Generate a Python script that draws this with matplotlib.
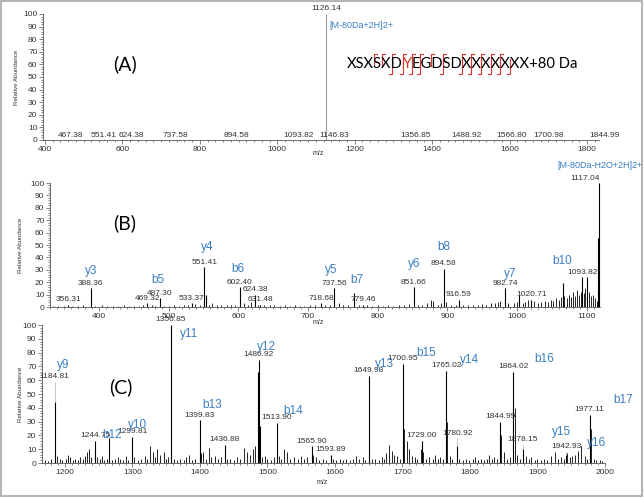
import matplotlib
matplotlib.use("Agg")
import matplotlib.pyplot as plt
from matplotlib.patches import Rectangle
from matplotlib.ticker import MultipleLocator

plt.rcParams['font.family'] = ['Liberation Sans', 'DejaVu Sans']

W, H = 644, 498
BLUE = '#3a7dc2'
TXT = '#333333'

# ---- panel A: MS spectrum of the precursor
a_peak_mz = [1126.14]
a_peak_int = [100]
a_label_mz = [467.38, 551.41, 624.38, 737.58, 894.58, 1093.82, 1146.83,
              1356.85, 1488.92, 1566.80, 1700.98, 1844.99]
a_label_ha = ['center', 'center', 'center', 'center', 'center', 'right', 'center',
              'center', 'center', 'left', 'center', 'center']

# ---- panel B: MS/MS low m/z part
b_peak_mz = [356.31, 388.36, 469.32, 487.30, 533.37, 551.41, 553.40, 602.40,
             624.38, 631.48, 718.68, 737.56, 766.50, 779.46, 851.66, 894.58,
             916.59, 982.74, 1003.50, 1020.71, 1065.80, 1093.82, 1100.80,
             1116.40, 1117.04]
b_peak_int = [2, 15, 3, 7, 3, 32, 10, 16, 10, 2, 3, 15, 11, 2, 16, 31,
              6, 15, 10, 6, 19, 24, 24, 56, 100]
b_label_mz = [356.31, 388.36, 469.32, 487.30, 533.37, 551.41, 602.40, 624.38,
              631.48, 718.68, 737.56, 779.46, 851.66, 894.58, 916.59, 982.74,
              1020.71, 1093.82]
b_noise_mz = [335, 342, 350, 362, 370, 378, 395, 405, 412, 420, 428, 436, 443,
              450, 458, 464, 476, 481, 494, 500, 508, 515, 522, 528, 538, 545,
              558, 563, 570, 576, 584, 590, 596, 608, 614, 618, 628, 637, 645,
              652, 660, 667, 674, 681, 688, 695, 703, 710, 725, 731, 744, 750,
              757, 773, 785, 792, 800, 808, 815, 822, 830, 838, 845, 858, 864,
              871, 877, 880, 886, 891, 898, 905, 912, 923, 930, 937, 944, 950,
              956, 962, 968, 972, 976, 987, 995, 1000, 1008, 1012, 1016, 1025,
              1030, 1035, 1040, 1044, 1048, 1052, 1056, 1060, 1063, 1068, 1071,
              1074, 1077, 1080, 1083, 1086, 1089, 1092, 1096, 1098, 1103, 1106,
              1109, 1112, 1114]
b_noise_int = [1, 0.8, 1.2, 1, 0.8, 1.5, 1, 1.3, 0.8, 1.2, 1, 1.5, 0.8,
               1.2, 1, 2, 1.5, 1, 1.2, 1, 1.5, 1, 2, 1.5, 2.5, 1.5,
               2, 3, 2, 1.5, 1.5, 2, 1.5, 3, 2, 4, 2, 1.5, 2,
               1.5, 1.2, 1.5, 1, 1.5, 1, 1.2, 1.5, 2, 1.5, 2, 3, 1.5,
               2, 2, 1.5, 1.2, 1.5, 1.2, 1.5, 1.2, 1.5, 2, 2.5, 2, 1.5,
               3, 6, 5, 2, 3, 4, 2, 1.5, 2, 1.5, 2, 1.5, 2.5,
               2, 3, 3.5, 4, 5, 3, 3.5, 4, 3, 4, 6, 5,
               3, 4, 5, 4, 6, 5, 7, 6, 8, 9, 7,
               10, 8, 12, 9, 14, 10, 12, 11, 15, 12, 9,
               10, 7, 5]
b_ions = ['y3', 'b5', 'y4', 'b6', 'y5', 'b7', 'y6', 'b8', 'y7', 'b10']
b_ion_mz = [388.5, 485, 555, 599, 734, 770, 852, 895, 990, 1064]
b_ion_level = [29, 22, 48, 31, 30, 22, 35, 48, 27, 37]

# ---- panel C: MS/MS high m/z part
c_peak_mz = [1184.81, 1244.75, 1265.0, 1299.81, 1356.85, 1399.83, 1436.88,
             1486.40, 1486.92, 1488.40, 1513.90, 1565.90, 1593.89, 1649.98,
             1700.95, 1729.00, 1765.02, 1780.92, 1844.99, 1864.02, 1878.15,
             1942.93, 1977.11]
c_peak_int = [44, 16, 18, 19, 100, 31, 13, 66, 75, 27, 29, 12, 6, 63,
              72, 16, 67, 12, 30, 66, 10, 6, 35]
c_label_mz = [1184.81, 1244.75, 1299.81, 1356.85, 1399.83, 1436.88, 1486.92,
              1513.90, 1565.90, 1593.89, 1649.98, 1700.95, 1729.00, 1765.02,
              1780.92, 1844.99, 1864.02, 1878.15, 1942.93, 1977.11]
c_label_lift = [15, 0, 0, 0, 0, 0, 0, 0, 0, 0, 0, 0, 0, 0, 6, 0, 0, 3, 2, 0]
c_noise_mz = [1170, 1175, 1179, 1188, 1192, 1196, 1202, 1205, 1208, 1212, 1215,
              1219, 1222, 1226, 1229, 1232, 1236, 1239, 1248, 1252, 1255, 1258,
              1262, 1270, 1274, 1278, 1282, 1286, 1290, 1294, 1303, 1308, 1312,
              1318, 1322, 1326, 1330, 1333, 1336, 1341, 1346, 1350, 1353, 1362,
              1366, 1371, 1376, 1380, 1384, 1388, 1392, 1402, 1405, 1409, 1413,
              1417, 1422, 1427, 1431, 1440, 1445, 1450, 1455, 1460, 1465, 1470,
              1474, 1478, 1481, 1492, 1496, 1500, 1505, 1509, 1517, 1520, 1525,
              1529, 1534, 1540, 1545, 1549, 1554, 1558, 1568, 1572, 1577, 1582,
              1587, 1597, 1602, 1607, 1612, 1617, 1622, 1627, 1631, 1636, 1641,
              1645, 1651, 1655, 1660, 1665, 1669, 1673, 1676, 1680, 1684, 1688,
              1692, 1696, 1702, 1706, 1710, 1714, 1718, 1722, 1727, 1731, 1735,
              1740, 1745, 1748, 1752, 1756, 1760, 1766, 1770, 1774, 1784, 1789,
              1794, 1799, 1804, 1808, 1812, 1817, 1821, 1825, 1828, 1832, 1836,
              1840, 1846, 1850, 1855, 1859, 1866, 1870, 1874, 1883, 1887, 1891,
              1896, 1900, 1905, 1910, 1914, 1920, 1926, 1931, 1935, 1939, 1944,
              1948, 1951, 1955, 1960, 1965, 1970, 1974, 1979, 1983, 1987, 1992,
              1996]
c_noise_int = [2, 1.5, 3, 5, 3, 2, 3, 6, 4, 2, 3,
               2, 4, 3, 5, 8, 10, 4, 4, 3, 5, 2,
               3, 2, 3, 4, 3, 2, 5, 2, 4, 2, 3,
               5, 3, 12, 8, 4, 10, 6, 8, 3, 4, 3,
               2, 3, 2, 4, 6, 2, 3, 7, 8, 3, 11,
               4, 5, 3, 4, 3, 3, 2, 4, 3, 11, 8,
               6, 10, 12, 4, 5, 3, 2, 4, 5, 3, 10,
               8, 3, 4, 3, 5, 3, 4, 6, 4, 2, 3,
               2, 3, 2, 3, 2, 3, 2, 3, 5, 3, 4,
               2, 30, 3, 3, 2, 4, 3, 7, 13, 9, 6,
               5, 3, 25, 16, 10, 5, 4, 3, 10, 8, 3,
               4, 3, 6, 3, 4, 3, 30, 5, 3, 3, 2,
               3, 2, 3, 4, 2, 3, 2, 3, 6, 3, 4,
               3, 20, 8, 3, 4, 40, 6, 3, 5, 3, 4,
               2, 3, 2, 3, 2, 5, 8, 3, 4, 3, 7,
               4, 5, 6, 9, 12, 5, 3, 25, 3, 2, 2,
               1.5]
c_ions = ['y9', 'b12', 'y10', 'y11', 'b13', 'y12', 'b14', 'y13', 'b15',
          'y14', 'b16', 'b17', 'y15', 'y16']
c_ion_mz = [1198, 1270, 1308, 1384, 1418, 1499, 1538, 1674, 1735, 1800,
            1910, 2027, 1936, 1988]
c_ion_level = [71, 20, 27.5, 93.5, 42, 84, 38, 72, 80, 75, 75, 46, 22.5, 14.5]

# ---- peptide sequence with observed fragment ions
seq = "XSXSXDYEGDSDXXXXXXX"
b_obs = [5, 6, 7, 8, 10, 12, 13, 14, 15, 16, 17]
y_obs = [3, 4, 5, 6, 7, 9, 10, 11, 12, 13, 14, 15, 16]

fig = plt.figure(figsize=(W / 100, H / 100), dpi=100)


def px_axes(l, t, r, b):
    return fig.add_axes([l / W, 1 - b / H, (r - l) / W, (b - t) / H])


def style(ax, xlim, xmaj, xmin):
    ax.set_xlim(*xlim)
    ax.set_ylim(0, 100)
    ax.patch.set_alpha(0)
    for s in ['top', 'right']:
        ax.spines[s].set_visible(False)
    for s in ['left', 'bottom']:
        ax.spines[s].set_linewidth(0.6)
        ax.spines[s].set_color('#555555')
    ax.xaxis.set_major_locator(MultipleLocator(xmaj))
    ax.xaxis.set_minor_locator(MultipleLocator(xmin))
    ax.yaxis.set_major_locator(MultipleLocator(10))
    ax.yaxis.set_minor_locator(MultipleLocator(2))
    ax.tick_params(which='both', direction='out', width=0.5, colors='#555555',
                   labelsize=6, labelcolor=TXT, pad=1)
    ax.tick_params(which='major', length=3)
    ax.tick_params(which='minor', length=1.5)


def peak_labels(ax, mzs, peaks, lifts=None):
    lookup = dict(peaks)
    for i, mz in enumerate(mzs):
        h = lookup.get(mz, 0.8)
        lift = lifts[i] if lifts else 0
        if lift:
            ax.vlines(mz, h, h + lift, color='#bbbbbb', lw=0.6)
        ax.text(mz, h + lift + 1.2, f"{mz:.2f}", ha='center', va='bottom',
                fontsize=6, color=TXT, clip_on=False)


# panel A
axA = px_axes(43, 14, 599, 140)
style(axA, (395, 1831), 200, 20)
axA.vlines(a_peak_mz, 0, a_peak_int, color='#9a9a9a', lw=0.8)
axA.vlines(a_label_mz, 0, 0.8, color='#9a9a9a', lw=0.6)
for mz, ha in zip(a_label_mz, a_label_ha):
    axA.text(mz, 1.0, f"{mz:.2f}", ha=ha, va='bottom', fontsize=6, color=TXT)
axA.text(a_peak_mz[0], 101.5, f"{a_peak_mz[0]:.2f}", ha='center', va='bottom',
         fontsize=6, color=TXT, clip_on=False)

# panel B
axB = px_axes(50, 183, 600, 307)
style(axB, (330, 1119), 100, 10)
axB.vlines(b_noise_mz, 0, b_noise_int, color='black', lw=0.6)
axB.vlines(b_peak_mz, 0, b_peak_int, color='black', lw=0.8, clip_on=False)
peak_labels(axB, b_label_mz, list(zip(b_peak_mz, b_peak_int)))
axB.text(b_peak_mz[-1] + 2, 101, f"{b_peak_mz[-1]:.2f}", ha='right', va='bottom',
         fontsize=6, color=TXT, clip_on=False)
for name, mz, lv in zip(b_ions, b_ion_mz, b_ion_level):
    axB.text(mz, lv, name, ha='center', va='center', fontsize=8.5, color=BLUE)

# panel C
axC = px_axes(42, 325, 605, 463)
style(axC, (1166, 2000), 100, 10)
axC.vlines(c_noise_mz, 0, c_noise_int, color='black', lw=0.6)
axC.vlines(c_peak_mz, 0, c_peak_int, color='black', lw=0.8, clip_on=False)
peak_labels(axC, c_label_mz, list(zip(c_peak_mz, c_peak_int)), c_label_lift)
for name, mz, lv in zip(c_ions, c_ion_mz, c_ion_level):
    axC.text(mz, lv, name, ha='center', va='center', fontsize=8.5, color=BLUE,
             clip_on=False)

# overlay in pixel coordinates for free-standing text and the frame
ov = fig.add_axes([0, 0, 1, 1], zorder=10)
ov.set_xlim(0, W)
ov.set_ylim(H, 0)
ov.axis('off')
ov.patch.set_alpha(0)
ov.add_patch(Rectangle((1, 1), W - 3, H - 3, fill=False, ec='#b5b5b5', lw=1.5))

for lab, x, y in [('(A)', 125, 64), ('(B)', 125, 223), ('(C)', 121, 387)]:
    ov.text(x, y, lab, ha='center', va='center', fontsize=14, family='Lato')
for x, y in [(318, 153), (318, 322), (322, 482)]:
    ov.text(x, y, 'm/z', ha='center', va='center', fontsize=5, color=TXT)
for x, y in [(17, 77), (21, 245), (21, 394)]:
    ov.text(x, y, 'Relative Abundance', rotation=90, ha='center', va='center',
            fontsize=4.5, color=TXT)
ov.text(329, 25, '[M-80Da+2H]2+', ha='left', va='center', fontsize=6.5, color=BLUE)
ov.text(557, 165, '[M-80Da-H2O+2H]2+', ha='left', va='center', fontsize=6.5, color=BLUE)

# sequence with fragment markers
FS = 10.6
renderer = fig.canvas.get_renderer()


def tw(s):
    t = ov.text(0, 0, s, fontsize=FS, family='Lato')
    w = t.get_window_extent(renderer).width
    t.remove()
    return w


x0, base = 347, 68
p1, p2, p3 = seq[:6], seq[6], seq[7:] + "+80 Da"
ov.text(x0, base, p1, fontsize=FS, family='Lato', va='baseline')
ov.text(x0 + tw(seq[:7]) - tw(p2), base, p2, fontsize=FS, family='Lato',
        va='baseline', color='#e03020')
ov.text(x0 + tw(seq[:8]) - tw(seq[7]), base, p3, fontsize=FS, family='Lato',
        va='baseline')


def boundary(k):
    return x0 + (tw(seq[:k]) + tw(seq[:k + 1]) - tw(seq[k])) / 2


for j in y_obs:
    bx = boundary(len(seq) - j)
    ov.plot([bx + 3, bx, bx], [54, 54, 66], color='#e03030', lw=0.8)
for i in b_obs:
    bx = boundary(i)
    ov.plot([bx, bx, bx - 3], [59, 74, 74], color='#e03030', lw=0.8)

fig.savefig('out.png', dpi=100)
